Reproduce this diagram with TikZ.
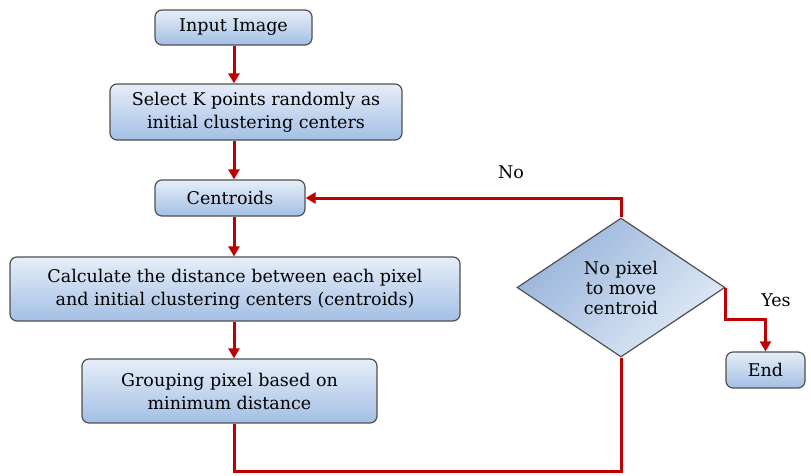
\documentclass[tikz,border=0pt]{standalone}
\usepackage{fontspec}
\setmainfont{DejaVu Serif}
\usetikzlibrary{arrows.meta,shapes.geometric}
\definecolor{flowred}{HTML}{C00000}
\definecolor{boxtop}{HTML}{E6EEF9}
\definecolor{boxbot}{HTML}{A3BFE4}
\definecolor{boxline}{HTML}{505050}
\definecolor{diadark}{HTML}{97B3DA}
\definecolor{dialight}{HTML}{E2EBF7}
\tikzset{
  procbox/.style={draw=boxline,rounded corners=7pt,line width=1.2pt,align=center,
    top color=boxtop,bottom color=boxbot,inner sep=0pt,
    font=\fontsize{17.5}{23}\selectfont},
  decision/.style={diamond,draw=boxline,line width=1.2pt,align=center,aspect=1.5,
    inner sep=0pt,top color=diadark,bottom color=dialight,shading angle=45,
    font=\fontsize{17.5}{20}\selectfont},
  flow/.style={line width=3pt,draw=flowred,-{Triangle[length=10pt,width=11pt]}},
  flowline/.style={line width=3pt,draw=flowred},
  lbl/.style={font=\fontsize{17.5}{22}\selectfont}
}

\begin{document}
\begin{tikzpicture}[x=1pt,y=-1pt]
 \useasboundingbox (0,0) rectangle (811,475);
 % main column
 \node[procbox,minimum width=157pt,minimum height=35pt] (input) at (233.5,27.5) {Input Image};
 \node[procbox,minimum width=292pt,minimum height=56pt] (select) at (256,112)
   {Select K points randomly as\\initial clustering centers};
 \node[procbox,minimum width=150pt,minimum height=36pt] (cent) at (230,198) {Centroids};
 \node[procbox,minimum width=450pt,minimum height=64pt] (calc) at (235,289)
   {Calculate the distance between each pixel\\and initial clustering centers (centroids)};
 \node[procbox,minimum width=295pt,minimum height=64pt] (group) at (229.5,391)
   {Grouping pixel based on\\minimum distance};
 % decision and end
 \node[decision,minimum width=208pt,minimum height=139pt] (dec) at (621,287.5)
   {No pixel\\to move\\centroid};
 \node[procbox,minimum width=79pt,minimum height=36pt] (endbox) at (765.5,370) {End};
 \coordinate (spine) at (234,0);
 \coordinate (loopbase) at (0,471);
 \coordinate (yesbend) at ([yshift=32pt]endbox.north);

 \draw[flow] (spine |- input.south) -- (spine |- select.north);
 \draw[flow] (spine |- select.south) -- (spine |- cent.north);
 \draw[flow] (spine |- cent.south) -- (spine |- calc.north);
 \draw[flow] (spine |- calc.south) -- (spine |- group.north);
 \draw[flowline] (spine |- group.south) -- (spine |- loopbase) -| (dec.south);
 \draw[flow] (dec.north) |- (cent.east);
 \draw[flow] (dec.east) |- (yesbend) -- (endbox.north);

 \node[lbl] (nolbl) at (511,172) {No};
 \node[lbl] (yeslbl) at (776,300) {Yes};
\end{tikzpicture}
\end{document}
